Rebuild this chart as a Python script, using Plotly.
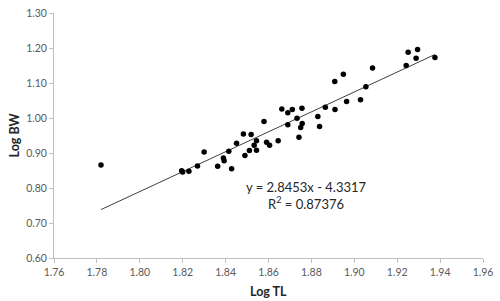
import plotly.graph_objects as go

log_tl = [1.7819, 1.8195, 1.8200, 1.8229, 1.8269, 1.8300, 1.8363, 1.8390, 1.8393, 1.8415,
          1.8428, 1.8451, 1.8483, 1.8490, 1.8511, 1.8519, 1.8533, 1.8544, 1.8544, 1.8579,
          1.8591, 1.8605, 1.8645, 1.8662, 1.8690, 1.8690, 1.8711, 1.8733, 1.8742, 1.8750,
          1.8756, 1.8757, 1.8830, 1.8838, 1.8865, 1.8909, 1.8910, 1.8949, 1.8964, 1.9029,
          1.9054, 1.9085, 1.9242, 1.9251, 1.9288, 1.9295, 1.9376]
log_bw = [0.866, 0.849, 0.846, 0.848, 0.863, 0.903, 0.862, 0.886, 0.878, 0.905,
          0.855, 0.928, 0.954, 0.893, 0.907, 0.953, 0.922, 0.935, 0.908, 0.990,
          0.931, 0.922, 0.935, 1.026, 1.015, 0.981, 1.024, 0.999, 0.945, 0.973,
          1.028, 0.984, 1.004, 0.976, 1.031, 1.104, 1.024, 1.125, 1.047, 1.052,
          1.089, 1.143, 1.150, 1.188, 1.171, 1.196, 1.173]

slope = 2.8453
intercept = -4.3317
r2 = 0.87376

x_ticks = [1.76, 1.78, 1.80, 1.82, 1.84, 1.86, 1.88, 1.90, 1.92, 1.94, 1.96]
y_ticks = [0.60, 0.70, 0.80, 0.90, 1.00, 1.10, 1.20, 1.30]

trend_x = [min(log_tl), max(log_tl)]
trend_y = [slope * v + intercept for v in trend_x]

fig = go.Figure()
fig.add_trace(go.Scatter(x=trend_x, y=trend_y, mode="lines",
                         line=dict(color="#404040", width=1), hoverinfo="skip"))
fig.add_trace(go.Scatter(x=log_tl, y=log_bw, mode="markers",
                         marker=dict(color="black", size=5.5)))

tick_font = dict(family="Lato, 'Open Sans', sans-serif", size=10.5, color="#595959")
axis_common = dict(showgrid=False, zeroline=False, showline=True, linecolor="#bfbfbf",
                   linewidth=1, ticks="outside", ticklen=4, tickcolor="#bfbfbf",
                   tickfont=tick_font)

fig.update_layout(
    width=500, height=301,
    margin=dict(l=54, r=13, t=7, b=43),
    plot_bgcolor="white", paper_bgcolor="white",
    showlegend=False,
    xaxis=dict(range=[1.76, 1.96], tickvals=x_ticks,
               ticktext=[f"{v:.2f}" for v in x_ticks], **axis_common),
    yaxis=dict(range=[0.60, 1.30], tickvals=y_ticks,
               ticktext=[f"{v:.2f}" for v in y_ticks], **axis_common),
    annotations=[
        dict(text="<b>Log TL</b>", xref="paper", yref="paper", x=0.5, y=0,
             yanchor="middle", yshift=-33, showarrow=False,
             font=dict(family="Lato, sans-serif", size=12.5, color="#262626")),
        dict(text="<b>Log BW</b>", xref="paper", yref="paper", x=0, y=0.5,
             xanchor="center", xshift=-40, textangle=-90, showarrow=False,
             font=dict(family="Lato, sans-serif", size=12.5, color="#262626")),
        dict(text=f"y = {slope}x - {abs(intercept)}<br>R<sup>2</sup> = {r2}",
             xref="x", yref="y", x=1.8778, y=0.779, showarrow=False, align="center",
             font=dict(family="Lato, sans-serif", size=13, color="#262626")),
    ],
)

fig.write_html("out.html", config={"displayModeBar": False},
               post_script="document.body.style.margin='0';document.body.style.overflow='hidden';")
